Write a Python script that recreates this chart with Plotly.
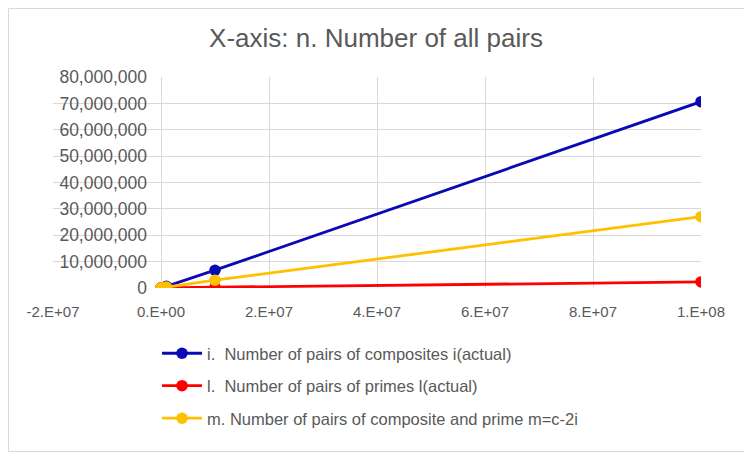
import plotly.graph_objects as go

n_values = [1e3, 1e4, 1e5, 1e6, 1e7, 1e8]
composites_i = [300, 4800, 55000, 620000, 6750000, 70650000]
primes_l = [60, 400, 3000, 45000, 300000, 2300000]
mixed_m = [640, 4800, 42000, 335000, 2950000, 27050000]

names = [
    "i.  Number of pairs of composites i(actual)",
    "l.  Number of pairs of primes l(actual)",
    "m. Number of pairs of composite and prime m=c-2i",
]
colors = ["#0A0AB4", "#FF0000", "#FFC000"]
series = [composites_i, primes_l, mixed_m]

x_tickvals = [-2e7, 0, 2e7, 4e7, 6e7, 8e7, 1e8]
x_ticktext = ["-2.E+07", "0.E+00", "2.E+07", "4.E+07", "6.E+07", "8.E+07", "1.E+08"]

FONT = "Liberation Sans"
TXT = "#595959"
GRID = "#D9D9D9"

fig = go.Figure()
for i, (nm, col, ys) in enumerate(zip(names, colors, series)):
    fig.add_trace(go.Scatter(
        x=n_values, y=ys, name=nm, mode="lines+markers",
        line=dict(color=col, width=2.8),
        marker=dict(color=col, size=11.5),
        legendgroup=str(i),
    ))

# page body has an 8px margin, so the figure is drawn 8px in from the window corner
OFF = 8
W, H = 752 - OFF, 452 - OFF
L, R, T, B = 53 - OFF, 51, 77 - OFF, 164
pw = W - L - R
ph = H - T - B

fig.update_layout(
    width=W, height=H,
    margin=dict(l=L, r=R, t=T, b=B, pad=0),
    paper_bgcolor="white", plot_bgcolor="white",
    title=dict(text="X-axis: n. Number of all pairs", x=(376 - OFF) / W, xanchor="center",
               xref="container",
               y=1 - (38 - OFF) / H, yanchor="middle",
               font=dict(family=FONT, size=26, color=TXT)),
    font=dict(family=FONT, size=15, color=TXT),
    xaxis=dict(range=[-2e7, 1e8], tickvals=x_tickvals, ticktext=x_ticktext,
               showgrid=True, gridcolor=GRID, gridwidth=1,
               zeroline=False, showline=False, ticks="",
               ticklabelstandoff=13,
               tickfont=dict(family=FONT, size=15, color=TXT)),
    yaxis=dict(range=[0, 8e7], dtick=1e7, tickformat=",",
               anchor="free", position=1 / 6,
               showgrid=True, gridcolor=GRID, gridwidth=1,
               zeroline=False, showline=False, ticks="",
               ticklabelstandoff=14,
               tickfont=dict(family=FONT, size=17.5, color=TXT)),
    yaxis2=dict(range=[0, 8e7], overlaying="y", anchor="x", side="left",
                showline=True, linecolor=GRID, linewidth=1,
                showgrid=False, zeroline=False, showticklabels=False, ticks=""),
    showlegend=True,
    legend=dict(x=(149 - L) / pw, xanchor="left", y=-(328 - T - ph) / ph, yanchor="top",
                traceorder="grouped", tracegroupgap=8, itemwidth=40,
                font=dict(family=FONT, size=16.5, color=TXT),
                bgcolor="rgba(0,0,0,0)"),
    shapes=[dict(type="rect", xref="paper", yref="paper",
                 x0=-(L - 0.5) / pw, x1=(W - 0.5 - L) / pw,
                 y0=-(B - 0.5) / ph, y1=(H - 0.5 - B) / ph,
                 line=dict(color=GRID, width=1), fillcolor="rgba(0,0,0,0)", layer="below")],
)

fig.write_html("out.html")
